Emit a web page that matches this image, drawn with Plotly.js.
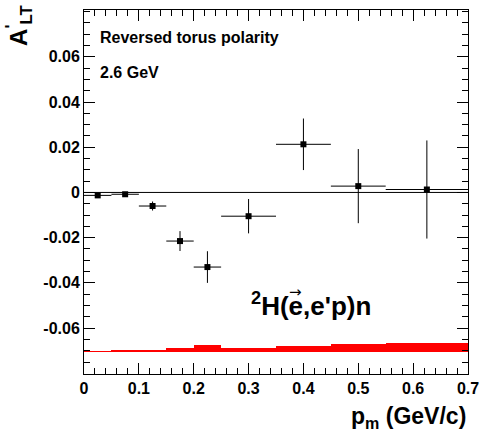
<!DOCTYPE html>
<html>
<head>
<meta charset="utf-8">
<script src="https://cdn.plot.ly/plotly-3.0.1.min.js"></script>
<style>html,body{margin:0;padding:0;background:#fff;}#chart{width:494px;height:432px;}</style>
</head>
<body>
<div id="chart"></div>
<script>
// Data
var pm      = [0.025, 0.075, 0.125, 0.175, 0.225, 0.30, 0.40, 0.50, 0.625];
var pmErr   = [0.025, 0.025, 0.025, 0.025, 0.025, 0.05, 0.05, 0.05, 0.075];
var alt     = [-0.0013, -0.0008, -0.0060, -0.0215, -0.0330, -0.0105, 0.0213, 0.0028, 0.0013];
var altErr  = [0.0008, 0.0008, 0.0020, 0.0044, 0.0070, 0.0076, 0.0114, 0.0164, 0.0217];
var sysBase = -0.0707;
var sysErr  = [0.0007, 0.0009, 0.0011, 0.0020, 0.0033, 0.0018, 0.0029, 0.0035, 0.0040];

var xTickVals = [0, 0.1, 0.2, 0.3, 0.4, 0.5, 0.6, 0.7];
var xTickText = ['0', '0.1', '0.2', '0.3', '0.4', '0.5', '0.6', '0.7'];
var yTickVals = [-0.06, -0.04, -0.02, 0, 0.02, 0.04, 0.06];
var yTickText = ['-0.06', '-0.04', '-0.02', '0', '0.02', '0.04', '0.06'];

var FONT = 'Liberation Sans, Arial, Helvetica, sans-serif';

var traces = [
  {
    type: 'bar',
    x: pm,
    y: sysErr,
    width: pmErr.map(function (w) { return 2 * w; }),
    base: sysBase,
    marker: { color: '#ff0000', line: { width: 0 } },
    hoverinfo: 'skip',
    showlegend: false
  },
  {
    type: 'scatter',
    mode: 'markers',
    x: pm,
    y: alt,
    marker: { symbol: 'square', size: 6, color: '#000000' },
    error_x: { type: 'data', array: pmErr, visible: true, color: '#000000', thickness: 1, width: 0 },
    error_y: { type: 'data', array: altErr, visible: true, color: '#000000', thickness: 1, width: 0 },
    showlegend: false
  }
];

var axisCommon = {
  showgrid: false,
  zeroline: false,
  showline: true,
  linecolor: '#000000',
  linewidth: 1,
  mirror: 'ticks',
  ticks: 'inside',
  tickcolor: '#000000',
  tickwidth: 1,
  tickfont: { family: FONT, size: 16, color: '#000000', weight: 'bold' },
  tickmode: 'array'
};

var layout = {
  width: 494,
  height: 432,
  margin: { l: 84, r: 26, t: 10, b: 58 },
  paper_bgcolor: '#ffffff',
  plot_bgcolor: '#ffffff',
  showlegend: false,
  bargap: 0,
  font: { family: FONT, color: '#000000' },
  xaxis: Object.assign({}, axisCommon, {
    range: [0, 0.7],
    tickvals: xTickVals,
    ticktext: xTickText,
    ticklen: 11,
    minor: { ticks: 'inside', dtick: 0.02, tick0: 0, ticklen: 6, tickcolor: '#000000', tickwidth: 1, showgrid: false }
  }),
  yaxis: Object.assign({}, axisCommon, {
    range: [-0.0803, 0.0807],
    tickvals: yTickVals,
    ticktext: yTickText,
    ticklen: 11,
    minor: { ticks: 'inside', dtick: 0.005, tick0: 0, ticklen: 6, tickcolor: '#000000', tickwidth: 1, showgrid: false }
  }),
  shapes: [
    { type: 'line', xref: 'x', yref: 'y', x0: 0, x1: 0.7, y0: 0, y1: 0, line: { color: '#000000', width: 1 } }
  ],
  annotations: [
    { xref: 'paper', yref: 'paper', x: 0.036, y: 0.925, xanchor: 'left', yanchor: 'middle', showarrow: false,
      text: 'Reversed torus polarity', font: { family: FONT, size: 16, weight: 'bold', color: '#000000' } },
    { xref: 'paper', yref: 'paper', x: 0.036, y: 0.828, xanchor: 'left', yanchor: 'middle', showarrow: false,
      text: '2.6 GeV', font: { family: FONT, size: 16, weight: 'bold', color: '#000000' } },
    { xref: 'paper', yref: 'paper', x: 0.43, y: 0.19, xanchor: 'left', yanchor: 'middle', showarrow: false,
      text: '<sup>2</sup>H(e,e\'p)n', font: { family: FONT, size: 26, weight: 'bold', color: '#000000' } },
    { xref: 'paper', yref: 'paper', x: 0.552, y: 0.224, xanchor: 'center', yanchor: 'middle', showarrow: false,
      text: '\u2192', font: { family: 'DejaVu Sans, sans-serif', size: 15, color: '#000000' } },
    { xref: 'paper', yref: 'paper', x: 1, y: -0.075, xanchor: 'right', yanchor: 'top', showarrow: false,
      text: 'p<sub>m</sub> (GeV/c)', font: { family: FONT, size: 23, weight: 'bold', color: '#000000' } },
    { xref: 'paper', yref: 'paper', x: -0.17, y: 1.02, xanchor: 'center', yanchor: 'top', showarrow: false, textangle: -90,
      text: 'A<sup>\'</sup><sub>LT</sub>', font: { family: FONT, size: 24, weight: 'bold', color: '#000000' } }
  ]
};

Plotly.newPlot('chart', traces, layout, { staticPlot: true, displayModeBar: false });
</script>
</body>
</html>
